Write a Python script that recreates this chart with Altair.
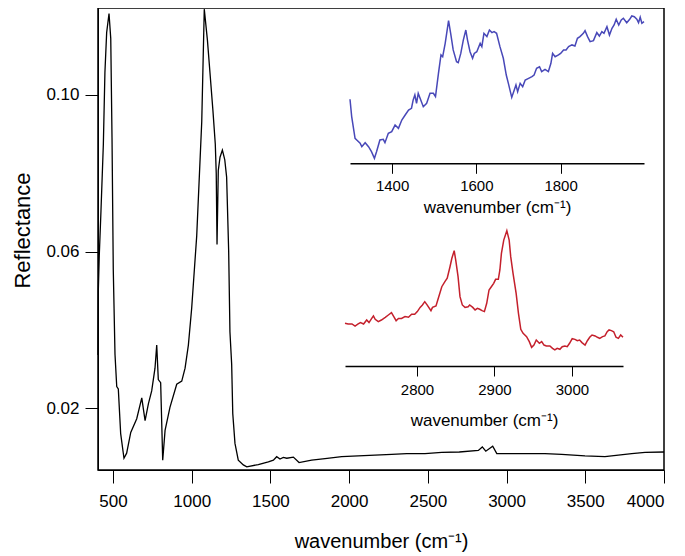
import altair as alt
import pandas as pd

# ---- main spectrum (wavenumber, reflectance) ----
main_wn = [405, 407, 413, 424, 439, 449, 460, 475, 486, 494, 502, 513, 524, 534, 549, 570, 587, 613,
           651, 683, 704, 725, 746, 767, 778, 788, 803, 816, 831, 862, 905, 937, 958, 979, 1000, 1032,
           1064, 1080, 1100, 1116, 1135, 1150, 1156, 1161, 1169, 1180, 1195, 1210, 1222, 1235, 1243,
           1254, 1261, 1275, 1296, 1328, 1350, 1423, 1487, 1519, 1540, 1561, 1582, 1604, 1646, 1682,
           1762, 1847, 1953, 2058, 2164, 2270, 2366, 2482, 2588, 2700, 2821, 2846, 2868, 2912, 2938,
           3033, 3244, 3350, 3498, 3625, 3710, 3795, 3880, 4000]
main_refl = [0.0336, 0.0500, 0.0589, 0.0705, 0.0874, 0.1058, 0.1159, 0.1208, 0.1144, 0.0891, 0.0554,
             0.0337, 0.0255, 0.0249, 0.0135, 0.0072, 0.0085, 0.0138,
             0.0173, 0.0226, 0.0168, 0.0211, 0.0244, 0.0302, 0.0361, 0.0273, 0.0265, 0.0067, 0.0143,
             0.0202, 0.0261, 0.0269, 0.0302, 0.0361, 0.0455, 0.0640,
             0.0932, 0.1219, 0.1140, 0.1058, 0.0960, 0.0874, 0.0800, 0.0618, 0.0807, 0.0841, 0.0859,
             0.0835, 0.0790, 0.0600, 0.0395,
             0.0312, 0.0186, 0.0110, 0.0067, 0.0055, 0.0050, 0.0056, 0.0063, 0.0067, 0.0076, 0.0070,
             0.0074, 0.0072, 0.0075, 0.0061,
             0.0067, 0.0071, 0.0076, 0.0078, 0.0080, 0.0082, 0.0084, 0.0084, 0.0087, 0.0088, 0.0092,
             0.0101, 0.0090, 0.0103, 0.0084,
             0.0084, 0.0084, 0.0082, 0.0078, 0.0076, 0.0080, 0.0084, 0.0087, 0.0088]

# ---- blue inset (1300-2000 cm-1, arbitrary units) ----
blue_wn = [1300, 1304, 1312, 1316, 1324, 1328, 1336, 1344, 1351, 1358, 1363, 1371, 1379, 1383, 1391,
           1399, 1407, 1415, 1423, 1431, 1439, 1446, 1450, 1454, 1458, 1462, 1468, 1474, 1482, 1490,
           1498, 1503, 1510, 1516, 1520, 1526, 1534, 1539, 1545, 1553, 1557, 1563, 1569, 1575, 1579,
           1585, 1591, 1595, 1601, 1609, 1613, 1618, 1625, 1631, 1637, 1642, 1648, 1656, 1664, 1671,
           1676, 1684, 1690, 1694, 1698, 1704, 1710, 1716, 1724, 1732, 1737, 1743, 1750, 1755, 1763,
           1771, 1777, 1781, 1787, 1795, 1800, 1807, 1813, 1819, 1827, 1834, 1840, 1846, 1854, 1858,
           1864, 1870, 1878, 1886, 1892, 1898, 1903, 1910, 1916, 1922, 1927, 1932, 1938, 1944, 1949,
           1957, 1964, 1969, 1975, 1981, 1985, 1989, 1993, 1998]
blue_int = [44.7, 32.6, 17.4, 16.3, 14.0, 11.6, 14.4, 11.6, 8.1, 3.5, 8.1, 16.3, 16.7, 14.4, 20.9,
            22.1, 26.7, 24.4, 30.2, 33.7, 37.2, 38.4, 44.2, 47.7, 41.9, 48.8, 44.2, 39.5, 41.9, 48.8,
            48.8, 46.5, 62.8, 75.6, 74.4, 83.7, 99.5, 90.7, 79.1, 70.9, 70.2, 76.7, 86.0, 93.0, 86.0,
            77.9, 73.3, 76.7, 77.9, 83.7, 81.4, 90.7, 88.4, 93.0, 91.2, 91.9, 90.7, 81.4, 73.3, 61.6,
            55.8, 46.0, 51.2, 54.7, 50.0, 55.8, 53.5, 58.1, 59.3, 60.5, 61.6, 66.3, 67.4, 64.0, 65.6,
            64.0, 69.8, 76.7, 74.4, 75.6, 76.7, 79.1, 79.1, 81.4, 82.6, 81.9, 87.2, 88.4, 90.7, 92.6,
            88.4, 84.9, 85.6, 91.2, 88.8, 91.9, 90.7, 95.3, 89.5, 94.2, 96.5, 100.5, 96.5, 100.0, 101.2,
            98.1, 100.5, 102.8, 102.3, 100.5, 98.1, 101.9, 97.7, 98.8]

# ---- red inset (2700-3070 cm-1, arbitrary units) ----
red_wn = [2707, 2711, 2716, 2720, 2724, 2727, 2731, 2735, 2738, 2741.5, 2743.7, 2746, 2750, 2754, 2759,
          2763, 2767, 2770, 2773, 2776, 2780, 2784.5, 2789, 2793, 2797, 2800.4, 2804, 2807, 2810, 2813,
          2818, 2820, 2824.5, 2827.5, 2832, 2836, 2839, 2842.6, 2845, 2848, 2850, 2853, 2855.5, 2858.5,
          2862, 2866, 2868, 2872, 2875, 2878, 2881, 2884, 2887, 2890, 2893, 2896, 2899, 2901.5, 2905,
          2907, 2909, 2912, 2916, 2919, 2921, 2924, 2928, 2931, 2934, 2937, 2941.5, 2945, 2948, 2951,
          2954, 2958, 2961, 2964, 2967, 2971.6, 2975, 2978, 2981, 2984.5, 2987.5, 2991, 2994, 2997,
          3000.4, 3004, 3007, 3010, 3013, 3017, 3020, 3023, 3026, 3030, 3033, 3036, 3039.6, 3042.6,
          3045.6, 3048, 3051, 3054, 3057, 3060, 3063, 3066]
red_int = [31.4, 30.9, 30.9, 29.4, 30.9, 31.9, 30.9, 33.8, 31.9, 35.0, 36.8, 34.3, 32.6, 33.8, 35.8,
           37.5, 39.2, 36.3, 33.3, 35.0, 35.0, 36.3, 35.8, 38.0, 38.0, 40.0, 43.1, 44.9, 47.3, 44.9,
           40.7, 43.1, 44.1, 49.8, 58.3, 62.0, 64.5, 73.0, 79.2, 84.8, 77.9, 65.7, 51.0, 44.9,
           43.1, 43.6, 44.9, 43.1, 41.2, 42.4, 41.7, 40.7, 40.0, 46.1, 55.9, 58.3, 60.8, 63.7, 63.7,
           70.6, 82.8, 92.6, 99.5, 92.6, 80.4, 68.1, 53.4, 38.7, 27.0, 24.0, 21.6, 17.9, 13.7, 15.4,
           19.1, 16.7, 17.9, 15.4, 14.7, 14.7, 13.0, 11.8, 13.0, 12.3, 14.2, 14.7, 14.2, 16.7,
           20.1, 19.6, 18.6, 19.1, 17.2, 15.4, 18.6, 21.1, 22.8, 22.1, 21.1, 20.3, 21.6, 22.1,
           25.2, 26.5, 26.0, 25.2, 21.1, 20.3, 22.8, 21.1]

main_ticks = [500, 1000, 1500, 2000, 2500, 3000, 3500, 4000]
refl_ticks = [0.02, 0.06, 0.10]
blue_ticks = [1400, 1600, 1800]
red_ticks = [2800, 2900, 3000]

XTITLE = "wavenumber (cm\u207b\u00b9)"
FONT = "Liberation Sans"

W, H = 566, 462

main_df = pd.DataFrame({"wn": main_wn, "r": main_refl})
blue_df = pd.DataFrame({"wn": blue_wn, "v": blue_int})
red_df = pd.DataFrame({"wn": red_wn, "v": red_int})

main = alt.Chart(main_df).mark_line(color="black", strokeWidth=1.3).encode(
    x=alt.X("wn:Q", scale=alt.Scale(domain=[405, 4000], nice=False, zero=False),
            axis=alt.Axis(values=main_ticks, format="d", title=XTITLE, tickSize=13,
                          labelFontSize=17, titleFontSize=20, titleFontWeight="normal",
                          labelPadding=10, titlePadding=22, orient="bottom")),
    y=alt.Y("r:Q", scale=alt.Scale(domain=[0.0042, 0.1222], nice=False, zero=False),
            axis=alt.Axis(values=refl_ticks, format=".2f", title="Reflectance", tickSize=13,
                          labelFontSize=17, titleFontSize=22, titleFontWeight="normal",
                          labelPadding=6, titlePadding=11, titleY=222)),
    order="wn:Q",
)

blue = alt.Chart(blue_df).mark_line(color="#4848B8", strokeWidth=1.5).encode(
    x=alt.X("wn:Q", scale=alt.Scale(domain=[1300, 1998], range=[252, 546], nice=False, zero=False),
            axis=alt.Axis(values=blue_ticks, format="d", title=XTITLE, orient="bottom",
                          offset=-306.7, tickSize=10, labelFontSize=15, titleFontSize=17,
                          titleFontWeight="normal", labelPadding=5, titlePadding=6,
                          domainWidth=1.5)),
    y=alt.Y("v:Q", scale=alt.Scale(domain=[0, 100], range=[155.3, 12], nice=False, zero=False),
            axis=None),
    order="wn:Q",
)

red = alt.Chart(red_df).mark_line(color="#C4202C", strokeWidth=1.5).encode(
    x=alt.X("wn:Q", scale=alt.Scale(domain=[2707, 3066], range=[247, 525], nice=False, zero=False),
            axis=alt.Axis(values=red_ticks, format="d", title=XTITLE, orient="bottom",
                          offset=-104, tickSize=10, labelFontSize=15, titleFontSize=17,
                          titleFontWeight="normal", labelPadding=6, titlePadding=15,
                          domainWidth=1.5)),
    y=alt.Y("v:Q", scale=alt.Scale(domain=[0, 100], range=[358, 222], nice=False, zero=False),
            axis=None),
    order="wn:Q",
)

chart = alt.layer(main, blue, red).resolve_scale(
    x="independent", y="independent"
).resolve_axis(x="independent", y="independent").properties(
    width=W, height=H,
    autosize=alt.AutoSizeParams(type="none"),
    padding={"left": 90, "top": 0, "right": 13, "bottom": 84},
).configure_axis(
    grid=False, domainColor="black", tickColor="black", labelColor="black",
    titleColor="black", labelFont=FONT, titleFont=FONT,
).configure_view(stroke="black", strokeWidth=1.5)

chart.save("out.html", embed_options={"renderer": "svg", "actions": False})
